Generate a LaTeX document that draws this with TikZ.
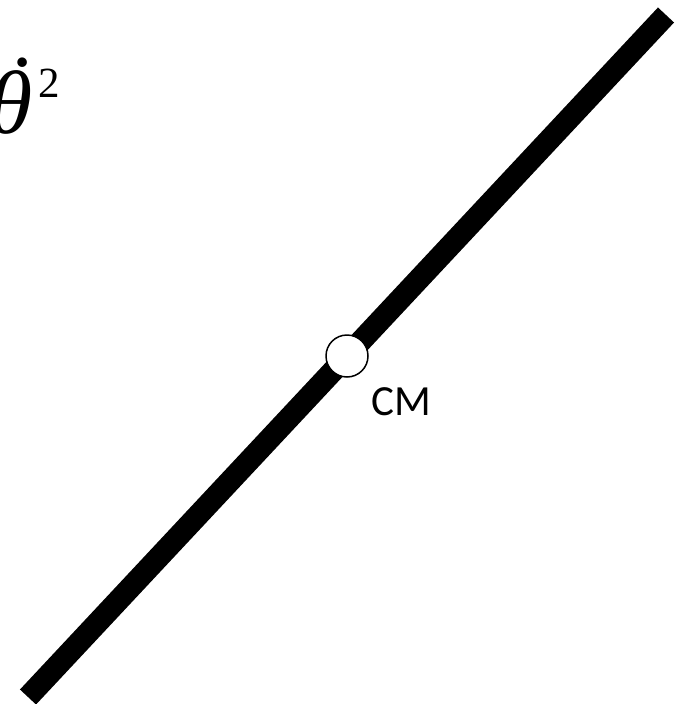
\documentclass[tikz,border=0pt]{standalone}
\usepackage{fontspec}
\setmainfont{Liberation Serif}
\newfontfamily\labelfont{Carlito}
\usepackage{tikz}

\begin{document}
\begin{tikzpicture}[x=1pt,y=-1pt]
  \useasboundingbox (0,0) rectangle (677,704);
  \coordinate (barlo) at (28,697);
  \coordinate (barhi) at (666,15);
  \draw[line width=22pt] (barlo) -- (barhi);
  \node[circle,draw,fill=white,line width=1.5pt,minimum size=42pt,inner sep=0pt] (cm) at (347,356) {};
  \node[font=\labelfont\fontsize{43}{45}\selectfont,anchor=center] (cmlabel) at (401,402) {CM};
  \node[font=\fontsize{90}{90}\selectfont,anchor=base east,inner sep=0pt] (thetadot) at (60,133)
    {\textit{θ}\llap{\raisebox{16pt}{˙}\kern-5pt}\kern6pt\raisebox{36pt}{\fontsize{43}{43}\selectfont 2}};
\end{tikzpicture}
\end{document}
